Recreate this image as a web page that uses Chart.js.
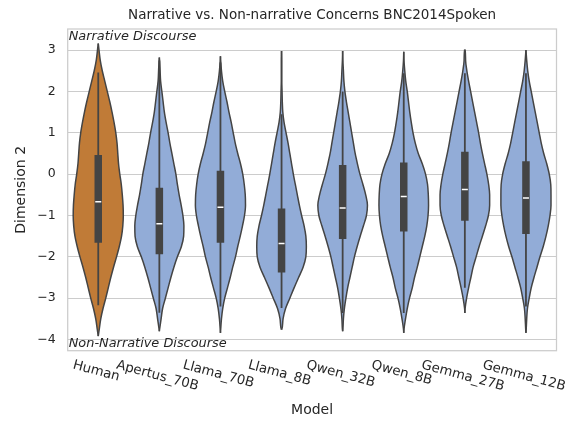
<!DOCTYPE html>
<html>
<head>
<meta charset="utf-8">
<script src="https://cdn.jsdelivr.net/npm/chart.js@4.4.0/dist/chart.umd.min.js"></script>
<style>
  html, body { margin: 0; padding: 0; background: #fff; }
</style>
</head>
<body>
<canvas id="violin" width="582" height="424"></canvas>
<script>
var models = ['Human', 'Apertus_70B', 'Llama_70B', 'Llama_8B', 'Qwen_32B', 'Qwen_8B', 'Gemma_27B', 'Gemma_12B'];
var yTicks = [-4, -3, -2, -1, 0, 1, 2, 3];

// Dimension 2 values where the violin widths were read
var levels = [3.0, 2.75, 2.5, 2.25, 2.0, 1.75, 1.5, 1.25, 1.0, 0.75, 0.5, 0.25, 0.0, -0.25,
  -0.5, -0.75, -1.0, -1.25, -1.5, -1.75, -2.0, -2.25, -2.5, -2.75, -3.0, -3.25, -3.5, -3.75];

// relative violin width at each level (1 = widest)
var densHuman   = [0.03, 0.08, 0.16, 0.26, 0.36, 0.46, 0.55, 0.63, 0.7, 0.75, 0.78, 0.81, 0.86, 0.92, 0.96, 0.99, 1.0, 0.98, 0.93, 0.84, 0.73, 0.61, 0.5, 0.4, 0.3, 0.19, 0.1, 0.04];
var densApertus = [0, 0.01, 0.03, 0.05, 0.1, 0.15, 0.2, 0.27, 0.35, 0.42, 0.5, 0.58, 0.66, 0.72, 0.79, 0.87, 0.94, 0.98, 0.97, 0.88, 0.72, 0.58, 0.46, 0.35, 0.24, 0.13, 0.07, 0.01];
var densLlama70 = [0, 0.01, 0.04, 0.09, 0.17, 0.26, 0.34, 0.43, 0.51, 0.59, 0.69, 0.8, 0.89, 0.95, 0.99, 1.0, 0.96, 0.88, 0.79, 0.69, 0.6, 0.49, 0.39, 0.28, 0.17, 0.09, 0.04, 0.01];
var densLlama8  = [0, 0.01, 0.01, 0.01, 0.02, 0.03, 0.05, 0.1, 0.18, 0.26, 0.33, 0.4, 0.47, 0.55, 0.63, 0.71, 0.8, 0.9, 0.97, 0.99, 0.97, 0.86, 0.68, 0.5, 0.33, 0.16, 0.06, 0.01];
var densQwen32  = [0, 0.01, 0.03, 0.05, 0.09, 0.15, 0.22, 0.29, 0.36, 0.43, 0.5, 0.59, 0.69, 0.81, 0.92, 0.99, 0.95, 0.83, 0.7, 0.58, 0.47, 0.38, 0.29, 0.2, 0.13, 0.07, 0.03, 0.01];
var densQwen8   = [0, 0.01, 0.04, 0.08, 0.14, 0.19, 0.24, 0.3, 0.37, 0.46, 0.58, 0.74, 0.87, 0.95, 0.98, 0.99, 0.97, 0.92, 0.84, 0.74, 0.64, 0.54, 0.43, 0.34, 0.23, 0.14, 0.07, 0.01];
var densGemma27 = [0.01, 0.03, 0.08, 0.15, 0.23, 0.31, 0.39, 0.47, 0.55, 0.62, 0.7, 0.79, 0.88, 0.95, 0.99, 0.99, 0.94, 0.83, 0.7, 0.57, 0.45, 0.33, 0.24, 0.15, 0.07, 0.01, 0, 0];
var densGemma12 = [0, 0.03, 0.07, 0.13, 0.21, 0.29, 0.37, 0.45, 0.53, 0.61, 0.71, 0.83, 0.93, 0.99, 1.0, 1.0, 0.96, 0.89, 0.8, 0.69, 0.56, 0.44, 0.32, 0.21, 0.13, 0.06, 0.03, 0.01];
var densities = [densHuman, densApertus, densLlama70, densLlama8, densQwen32, densQwen8, densGemma27, densGemma12];

// ends of each violin
var tipHigh = [3.16, 2.82, 2.85, 2.98, 2.98, 2.96, 3.01, 3.0];
var tipLow  = [-3.92, -3.8, -3.84, -3.76, -3.8, -3.84, -3.36, -3.84];

// inner box
var q1          = [-1.66, -1.94, -1.66, -2.38, -1.57, -1.39, -1.13, -1.45];
var medians     = [-0.67, -1.2, -0.8, -1.68, -0.82, -0.54, -0.37, -0.58];
var q3          = [0.46, -0.33, 0.08, -0.83, 0.22, 0.28, 0.54, 0.31];
var whiskerLow  = [-3.17, -3.35, -3.2, -3.24, -3.36, -3.36, -2.75, -3.2];
var whiskerHigh = [2.46, 2.75, 2.7, 1.45, 2.0, 2.44, 2.44, 2.44];

var titleText = 'Narrative vs. Non-narrative Concerns BNC2014Spoken';
var topNote = 'Narrative Discourse';
var bottomNote = 'Non-Narrative Discourse';

var humanColor = '#c07b37';
var modelColor = '#92acd7';
var edge = '#444444';
var textColor = '#262626';
var halfWidth = 0.41;

var datasets = [];
models.forEach(function (m, i) {
  var pts = [{ v: tipHigh[i], d: 0 }];
  levels.forEach(function (lv, k) {
    if (lv < tipHigh[i] && lv > tipLow[i]) pts.push({ v: lv, d: densities[i][k] });
  });
  pts.push({ v: tipLow[i], d: 0 });
  datasets.push({
    label: m,
    data: pts.map(function (p) { return { x: i + halfWidth * p.d, y: p.v }; }),
    fill: '+1',
    backgroundColor: i === 0 ? humanColor : modelColor,
    borderColor: edge, borderWidth: 1.5,
    cubicInterpolationMode: 'monotone', pointRadius: 0, order: 3
  });
  datasets.push({
    label: m + ' left',
    data: pts.map(function (p) { return { x: i - halfWidth * p.d, y: p.v }; }),
    fill: false,
    borderColor: edge, borderWidth: 1.5,
    cubicInterpolationMode: 'monotone', pointRadius: 0, order: 3
  });
  datasets.push({
    label: m + ' whisker',
    data: [{ x: i, y: whiskerLow[i] }, { x: i, y: whiskerHigh[i] }],
    fill: false, borderColor: edge, borderWidth: 1.8, pointRadius: 0, order: 2
  });
  datasets.push({
    label: m + ' box',
    data: [{ x: i, y: q1[i] }, { x: i, y: q3[i] }],
    fill: false, borderColor: edge, borderWidth: 7.5, borderCapStyle: 'butt', pointRadius: 0, order: 1
  });
});
datasets.push({
  label: 'median',
  data: medians.map(function (v, i) { return { x: i, y: v }; }),
  showLine: false, fill: false,
  pointStyle: 'line', pointRadius: 3, pointBorderColor: '#ffffff', pointBorderWidth: 1.5, order: 0
});

var decor = {
  id: 'decor',
  beforeDatasetsDraw: function (chart) {
    var a = chart.chartArea, c = chart.ctx;
    c.save();
    c.strokeStyle = '#cccccc';
    c.lineWidth = 1.25;
    c.strokeRect(a.left, a.top, a.right - a.left, a.bottom - a.top);
    c.restore();
  },
  afterDraw: function (chart) {
    var a = chart.chartArea, c = chart.ctx, xs = chart.scales.x;
    c.save();
    c.fillStyle = textColor;
    c.font = '13.5px "DejaVu Sans"';
    c.textAlign = 'center';
    c.textBaseline = 'middle';
    c.fillText(titleText, (a.left + a.right) / 2, 15);

    c.font = 'italic 12.9px "DejaVu Sans"';
    c.textAlign = 'left';
    c.textBaseline = 'top';
    c.fillText(topNote, a.left + 1, a.top + 1);
    c.textBaseline = 'bottom';
    c.fillText(bottomNote, a.left + 1, a.bottom - 1);

    // category labels, turned clockwise like the original
    c.font = '13.3px "DejaVu Sans"';
    c.textAlign = 'center';
    c.textBaseline = 'middle';
    var ang = 15 * Math.PI / 180;
    models.forEach(function (m, i) {
      var w = c.measureText(m).width, h = 15;
      var bh = w * Math.sin(ang) + h * Math.cos(ang);
      c.save();
      c.translate(xs.getPixelForValue(i) - 2, a.bottom + 7 + bh / 2);
      c.rotate(ang);
      c.fillText(m, 0, 0);
      c.restore();
    });
    c.restore();
  }
};

new Chart(document.getElementById('violin').getContext('2d'), {
  type: 'line',
  data: { datasets: datasets },
  plugins: [decor],
  options: {
    responsive: false,
    animation: false,
    indexAxis: 'y',
    layout: { padding: { top: 29, right: 25.5, bottom: 0, left: 0 } },
    plugins: {
      legend: { display: false },
      tooltip: { enabled: false },
      filler: { propagate: false, drawTime: 'beforeDatasetsDraw' }
    },
    scales: {
      x: {
        type: 'linear', min: -0.5, max: 7.5,
        grid: { display: false }, border: { display: false },
        ticks: { display: false },
        afterFit: function (s) { s.height = 73.3; },
        title: {
          display: true, text: 'Model', color: textColor,
          font: { family: 'DejaVu Sans', size: 14 },
          padding: { top: 0, bottom: 5 }
        }
      },
      y: {
        type: 'linear', min: -4.27, max: 3.51,
        afterBuildTicks: function (s) { s.ticks = yTicks.map(function (v) { return { value: v }; }); },
        afterFit: function (s) { s.width = 67.7; },
        grid: { color: '#cccccc', lineWidth: 1, drawTicks: false },
        border: { display: false },
        ticks: {
          padding: 12, color: textColor,
          font: { family: 'DejaVu Sans', size: 12.5 },
          callback: function (v) { return v < 0 ? '\u2212' + Math.abs(v) : String(v); }
        },
        title: {
          display: true, text: 'Dimension 2', color: textColor,
          font: { family: 'DejaVu Sans', size: 14 },
          padding: { top: 13, bottom: 0 }
        }
      }
    }
  }
});
</script>
</body>
</html>
